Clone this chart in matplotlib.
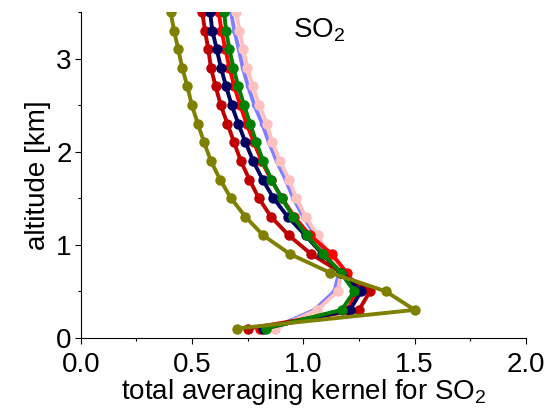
import matplotlib
matplotlib.use("Agg")
import matplotlib.pyplot as plt
from matplotlib.ticker import MultipleLocator

plt.rcParams['font.family'] = ['Liberation Sans', 'DejaVu Sans']
plt.rcParams['mathtext.fontset'] = 'custom'
plt.rcParams['mathtext.rm'] = 'Liberation Sans'

# altitude levels [km]
altitude = [0.1, 0.3, 0.5, 0.7, 0.9, 1.1, 1.3, 1.5, 1.7, 1.9,
            2.1, 2.3, 2.5, 2.7, 2.9, 3.1, 3.3, 3.5, 3.7]

# total averaging kernels for the different cases
ak_olive = [0.70, 1.50, 1.37, 1.12, 0.94, 0.82, 0.74, 0.675, 0.626, 0.585,
            0.554, 0.526, 0.499, 0.479, 0.456, 0.438, 0.419, 0.404, 0.39]
ak_darkred = [0.753, 1.25, 1.30, 1.17, 1.035, 0.935, 0.855, 0.80, 0.758, 0.719,
              0.689, 0.659, 0.629, 0.606, 0.585, 0.573, 0.558, 0.546, 0.535]
ak_navy = [0.82, 1.21, 1.26, 1.17, 1.085, 1.01, 0.93, 0.866, 0.817, 0.775,
           0.74, 0.708, 0.678, 0.653, 0.630, 0.611, 0.591, 0.581, 0.57]
ak_red = [0.805, 1.20, 1.24, 1.195, 1.128, 1.03, 0.96, 0.905, 0.855, 0.812,
          0.778, 0.745, 0.716, 0.69, 0.668, 0.65, 0.632, 0.62, 0.61]
ak_green = [0.831, 1.172, 1.229, 1.168, 1.09, 1.015, 0.955, 0.902, 0.857, 0.819,
            0.789, 0.761, 0.734, 0.708, 0.686, 0.668, 0.653, 0.644, 0.635]
ak_blue = [0.86, 1.05, 1.14, 1.16, 1.10, 1.055, 1.0, 0.955, 0.92, 0.88,
           0.845, 0.815, 0.78, 0.752, 0.728, 0.71, 0.69, 0.675, 0.66]
ak_pink = [0.873, 1.063, 1.155, 1.17, 1.11, 1.065, 1.01, 0.968, 0.935, 0.895,
           0.86, 0.836, 0.802, 0.773, 0.748, 0.731, 0.713, 0.698, 0.685]

series = [
    (ak_blue, '#8080ff', 4),
    (ak_pink, '#ffc0c0', 7.5),
    (ak_red, '#ff0000', 7.5),
    (ak_darkred, '#c00000', 7.5),
    (ak_navy, '#000060', 7.5),
    (ak_green, '#008000', 7.5),
    (ak_olive, '#808000', 7.5),
]

fig = plt.figure(figsize=(5.53, 4.13), dpi=100)
ax = fig.add_axes([0.146, 0.182, 0.805, 0.789])

for vals, col, ms in series:
    ax.plot(vals, altitude, color=col, linewidth=2.8, marker='o',
            markersize=ms, markeredgewidth=0)

ax.set_xlim(0, 2.0)
ax.set_ylim(0, 3.5)
ax.xaxis.set_major_locator(MultipleLocator(0.5))
ax.xaxis.set_minor_locator(MultipleLocator(0.25))
ax.yaxis.set_major_locator(MultipleLocator(1))
ax.yaxis.set_minor_locator(MultipleLocator(0.5))
ax.xaxis.set_major_formatter(plt.FormatStrFormatter('%.1f'))

for side in ['top', 'right']:
    ax.spines[side].set_visible(False)
for side in ['left', 'bottom']:
    ax.spines[side].set_linewidth(0.8)

ax.tick_params(which='major', direction='out', length=4.5, width=0.8,
               labelsize=20)
ax.tick_params(axis='x', which='major', pad=6)
ax.tick_params(axis='y', which='major', pad=2)
ax.tick_params(which='minor', direction='out', length=2.5, width=0.8)

ax.set_xlabel(r'total averaging kernel for SO$_\mathregular{2}$', fontsize=20,
              labelpad=-1)
ax.set_ylabel('altitude [km]', fontsize=20, labelpad=4)

ax.text(0.477, 0.924, r'SO$_\mathregular{2}$', transform=ax.transAxes,
        fontsize=20, ha='left', va='baseline')

fig.savefig('out.png', dpi=100)
